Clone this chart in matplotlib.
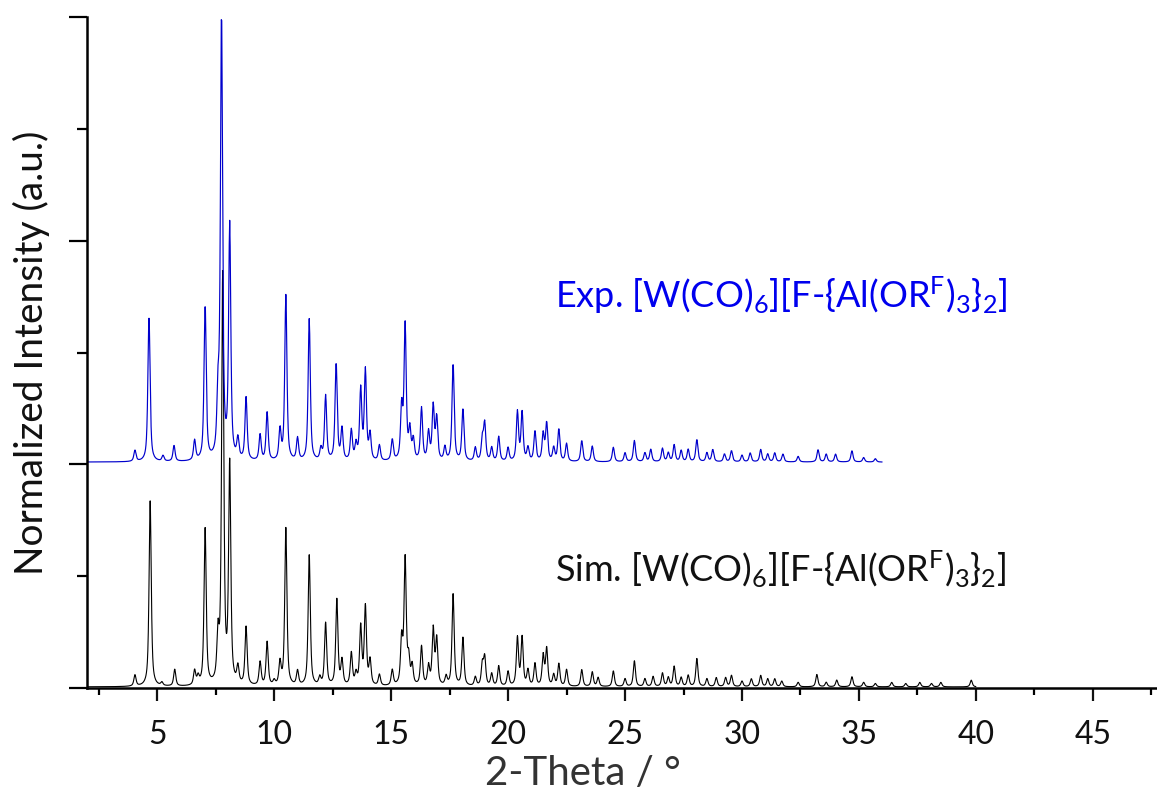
import matplotlib
matplotlib.use('Agg')
import matplotlib.pyplot as plt
from matplotlib.ticker import MultipleLocator
import numpy as np

plt.rcParams['font.family'] = ['Lato', 'DejaVu Sans']
plt.rcParams['mathtext.fontset'] = 'custom'
plt.rcParams['mathtext.rm'] = 'Lato'
plt.rcParams['mathtext.it'] = 'Lato:italic'
plt.rcParams['mathtext.bf'] = 'Lato:bold'

# simulated pattern: peak positions (2-theta) and heights (normalized)
SIM_POS = [4.05, 4.7, 5.2, 5.75, 6.6, 6.75, 7.05, 7.6, 7.8, 8.1, 8.45, 8.8, 9.4, 9.7,
           10.0, 10.25, 10.5, 11.0, 11.5, 11.95, 12.2, 12.68, 12.9, 13.3, 13.5, 13.7,
           13.9, 14.1, 14.5, 15.05, 15.45, 15.6, 15.75, 15.9, 16.3, 16.6, 16.8, 16.95,
           17.35, 17.65, 18.07, 18.6, 18.9, 19.0, 19.3, 19.6, 20.0, 20.4, 20.6, 20.85,
           21.15, 21.5, 21.65, 21.95, 22.17, 22.5, 23.15, 23.6, 23.85, 24.5, 25.0, 25.4,
           25.85, 26.2, 26.6, 26.85, 27.1, 27.4, 27.7, 28.07, 28.5, 28.9, 29.3, 29.55,
           30.0, 30.4, 30.8, 31.1, 31.4, 31.7, 32.4, 33.2, 33.6, 34.05, 34.7, 35.2,
           35.7, 36.4, 37.0, 37.6, 38.1, 38.5, 39.8]
SIM_INT = [0.1, 1.66, 0.03, 0.15, 0.13, 0.07, 1.4, 0.4, 3.65, 1.95, 0.15, 0.52, 0.21, 0.39,
           0.04, 0.2, 1.41, 0.13, 1.17, 0.07, 0.56, 0.77, 0.22, 0.29, 0.1, 0.52,
           0.7, 0.22, 0.1, 0.14, 0.4, 1.12, 0.22, 0.17, 0.35, 0.17, 0.5, 0.41,
           0.08, 0.82, 0.43, 0.08, 0.19, 0.25, 0.11, 0.18, 0.13, 0.43, 0.43, 0.14,
           0.2, 0.27, 0.33, 0.1, 0.2, 0.15, 0.15, 0.13, 0.08, 0.14, 0.07, 0.23,
           0.07, 0.09, 0.12, 0.08, 0.18, 0.08, 0.1, 0.25, 0.07, 0.08, 0.08, 0.1,
           0.05, 0.07, 0.1, 0.07, 0.07, 0.05, 0.04, 0.11, 0.04, 0.06, 0.09, 0.04,
           0.03, 0.04, 0.03, 0.04, 0.03, 0.04, 0.06]

# experimental pattern
EXP_POS = [4.05, 4.65, 5.25, 5.72, 6.6, 7.05, 7.6, 7.75, 8.1, 8.45, 8.8, 9.4, 9.7,
           10.25, 10.5, 11.0, 11.5, 12.0, 12.2, 12.65, 12.9, 13.3, 13.5, 13.7, 13.9,
           14.1, 14.5, 15.05, 15.45, 15.6, 15.8, 15.95, 16.3, 16.6, 16.8, 16.95, 17.3,
           17.65, 18.07, 18.6, 18.9, 19.0, 19.3, 19.6, 20.0, 20.4, 20.6, 20.85, 21.15,
           21.5, 21.65, 21.95, 22.17, 22.5, 23.15, 23.6, 24.5, 25.0, 25.4, 25.85, 26.1,
           26.6, 26.85, 27.1, 27.4, 27.7, 28.07, 28.5, 28.75, 29.25, 29.55, 30.0, 30.35,
           30.8, 31.1, 31.4, 31.75, 32.4, 33.25, 33.6, 34.0, 34.7, 35.2, 35.7]
EXP_INT = [0.1, 1.32, 0.05, 0.14, 0.18, 1.4, 0.5, 3.98, 2.08, 0.18, 0.56, 0.23, 0.43,
           0.27, 1.48, 0.2, 1.27, 0.1, 0.58, 0.88, 0.28, 0.27, 0.14, 0.63, 0.8,
           0.23, 0.14, 0.19, 0.46, 1.2, 0.26, 0.18, 0.47, 0.25, 0.48, 0.38, 0.12,
           0.88, 0.47, 0.12, 0.19, 0.33, 0.12, 0.22, 0.12, 0.44, 0.43, 0.12, 0.27,
           0.24, 0.34, 0.12, 0.29, 0.16, 0.19, 0.14, 0.13, 0.08, 0.19, 0.08, 0.11,
           0.12, 0.08, 0.15, 0.1, 0.11, 0.2, 0.08, 0.11, 0.07, 0.1, 0.06, 0.08,
           0.11, 0.07, 0.08, 0.07, 0.05, 0.11, 0.07, 0.07, 0.1, 0.04, 0.03]

SIM_RANGE = (2.0, 40.0)
EXP_RANGE = (2.0, 36.0)
EXP_OFFSET = 2.0

SIM_LABEL = r'Sim. [W(CO)$_6$][F-{Al(OR$^\mathrm{F}$)$_3$}$_2$]'
EXP_LABEL = r'Exp. [W(CO)$_6$][F-{Al(OR$^\mathrm{F}$)$_3$}$_2$]'


def pattern(x, positions, heights, fwhm, eta=0.7):
    y = np.zeros_like(x)
    for p, h in zip(positions, heights):
        d = (x - p) / (fwhm / 2)
        y += h * (eta / (1 + d ** 2) + (1 - eta) * np.exp(-np.log(2) * d ** 2))
    return y


x_sim = np.arange(SIM_RANGE[0], SIM_RANGE[1], 0.01)
x_exp = np.arange(EXP_RANGE[0], EXP_RANGE[1], 0.02)
y_sim = pattern(x_sim, SIM_POS, SIM_INT, 0.11) + 0.01
y_exp = pattern(x_exp, EXP_POS, EXP_INT, 0.11) + 0.02 + EXP_OFFSET

fig = plt.figure(figsize=(11.57, 7.98), dpi=100)
ax = fig.add_axes([0.0752, 0.1378, 0.9248, 0.8409])

ax.plot(x_sim, y_sim, color='black', lw=0.8)
ax.plot(x_exp, y_exp, color='#0000CC', lw=0.85)

ax.set_xlim(2, 47.74)
ax.set_ylim(0, 6)

for s in ['top', 'right']:
    ax.spines[s].set_visible(False)
for s in ['left', 'bottom']:
    ax.spines[s].set_linewidth(1.8)

ax.xaxis.set_major_locator(MultipleLocator(5))
ax.xaxis.set_minor_locator(MultipleLocator(2.5))
ax.yaxis.set_major_locator(MultipleLocator(2))
ax.yaxis.set_minor_locator(MultipleLocator(1))
ax.tick_params(axis='x', which='major', length=9, width=1.6, direction='out',
               labelsize=23, pad=14, colors='#111111')
ax.tick_params(axis='x', which='minor', length=5, width=1.6, direction='out')
ax.tick_params(axis='y', which='major', length=13, width=1.6, direction='out', labelleft=False)
ax.tick_params(axis='y', which='minor', length=7, width=1.6, direction='out')
ax.set_xticks([5, 10, 15, 20, 25, 30, 35, 40, 45])

ax.set_xlabel('2-Theta / °', fontsize=29, color='#333333')
ax.xaxis.set_label_coords(0.463, -0.1)
ax.set_ylabel('Normalized Intensity (a.u.)', fontsize=28, color='#111111', labelpad=14)

ax.text(22.0, 3.51, EXP_LABEL, fontsize=26, color='#0000EE', va='center')
ax.text(22.0, 1.07, SIM_LABEL, fontsize=26, color='#111111', va='center')

fig.savefig('out.png', dpi=100)
